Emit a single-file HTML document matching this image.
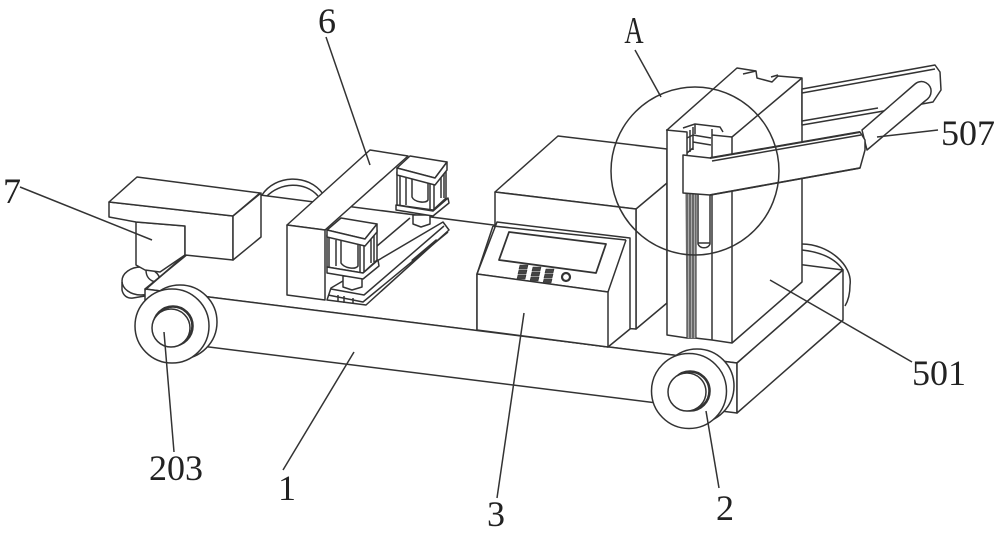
<!DOCTYPE html>
<html><head><meta charset="utf-8"><style>
html,body{margin:0;padding:0;background:#fff;width:1000px;height:533px;overflow:hidden}
svg{display:block}
.s path,.s polygon,.s ellipse,.s circle,.s polyline,.s line{stroke:#333;stroke-width:1.5;stroke-linejoin:round}
polygon,ellipse,circle{fill:#fff}
path,polyline,line{fill:none}
text{font-family:"Liberation Serif",serif;font-size:36px;fill:#222;text-anchor:middle}
</style></head><body>
<svg width="1000" height="533" viewBox="0 0 1000 533" xmlns="http://www.w3.org/2000/svg"><g class="s">
<!-- rear wheels -->
<path d="M262 195C275 175 308 173 323 194" />
<path d="M266 197C280 182 305 181 318 196" />
<path d="M802 244C828 244 853 265 850 285C850 295 848 301 845 306" style="fill:#fff"/>
<path d="M802 250C820 252 835 258 843 270" />
<!-- disk of unit 7 -->
<ellipse cx="141" cy="281" rx="19" ry="14" />
<path d="M122 282V290C123 295 127 299 133 298L145 296" />
<path d="M146 270C146 277 150 281 156 282L165 275" />
<!-- chassis -->
<polygon points="145,289 260,195 843,270 737,363" />
<polygon points="145,289 737,363 737,413 145,339" />
<polygon points="737,363 843,270 843,320 737,413" />
<!-- unit 7 body -->
<polygon points="136,222 185,226 185,255 160,272 145,270 136,265" />
<polygon points="109,202 233,216 233,260 185,255 185,226 136,222 109,217" />
<polygon points="137,177 260,193 233,216 109,202" />
<polygon points="233,216 261,193 261,237 233,260" />
<polyline points="145,290 185,255" />
<!-- unit 6 base -->
<polygon points="331,288 443,222 449,230 366,305 327,300" />
<polyline points="331,289 364,295 444,226" />
<polyline points="328,295 363,302 448,232" />
<polyline points="410,218 377,246" />
<line x1="437" y1="240" x2="412" y2="261" style="stroke-width:2.5" />
<path d="M338 295V302M344 296V303M353 298V304" />
<polygon points="413,215 430,215 430,224 421,227 413,224" />
<polygon points="343,276 362,276 362,287 352,290 343,287" />
<!-- block 6 -->
<polygon points="370,150 408,156 325,230 287,225" />
<polygon points="287,225 325,230 325,300 287,295" />
<!-- upper clamp -->
<polygon points="397,172 446,172 446,198 433,210 397,205" />
<path d="M400 175V205M406 178V205M412 178V197C414 202 426 204 428 200V180M430 180V209M434 180V209M441 170V198M444 168V198" />
<polygon points="396,205 433,211 448,198 449,203 433,216 396,210" />
<polygon points="410,156 447,162 435,178 397,168" />
<polygon points="397,168 435,178 447,162 447,170 435,185 397,175" />
<!-- lower clamp -->
<polygon points="327,235 377,230 377,260 363,273 327,267" />
<path d="M329 238V267M336 240V266M341 240V263C344 268 355 270 358 266V242M360 244V272M364 244V272M371 236V263M374 234V262" />
<polygon points="327,267 363,273 378,260 379,266 363,279 327,273" />
<polygon points="341,218 377,224 365,239 327,230" />
<polygon points="327,230 365,239 377,224 377,232 365,246 327,237" />
<!-- main box -->
<polygon points="558,136 667,149 667,303 636,329 636,209 495,192" />
<polygon points="495,192 636,209 636,329 495,320" />
<line x1="636" y1="209" x2="667" y2="183" />
<polygon points="497,222 630,238 630,329 608,347 477,330 477,274" />
<polyline points="493,226 626,240" />
<polyline points="493,226 477,274 608,292 626,240" />
<polygon points="477,274 608,292 608,347 477,330" />
<polygon points="509,232 606,244 596,273 499,260" style="stroke-width:1.8"/>
<path d="M520 265h8l-1 4h-8zM519 270h8l-1 4h-8zM518 275h8l-1 4h-8zM533 267h8l-1 4h-8zM532 272h8l-1 4h-8zM531 277h8l-1 4h-8zM546 269h8l-1 4h-8zM545 274h8l-1 4h-8zM544 279h8l-1 4h-8z" style="fill:#444;stroke-width:.6"/>
<circle cx="566" cy="277" r="4" style="stroke-width:2.2"/>
<!-- column 501 -->
<polygon points="737,68 756,71 757,78 772,82 778,76 802,78 802,282 732,343 712,340 695,338 687,338 667,335 667,130" />
<polyline points="802,78 732,137 732,343" />
<polyline points="712,135 732,137" />
<path d="M743 74L756 71M771 77L778 75" />
<path d="M666 130L687 132V158" />
<path d="M712 135V158" />
<!-- clamp atop column -->
<path d="M683 128L695 124L720 127L723 132M693 127V150M712 129V135M687 138L693 135L711 138M693 142L711 145M693 148L687 153" />
<path d="M695 124V134M690 130V152" />
<!-- column channels -->
<path d="M685 190H696V338H687Z" style="fill:#aaa;stroke:none"/>
<path d="M687 190V338M690 190V338M693 190V338M696 190V338" style="stroke-width:1.1"/>
<path d="M712 190V340" />
<path d="M698 190V244C700 249 708 249 710 244V190" style="fill:#fff"/>
<path d="M698 243H710" />
<!-- rear arm -->
<polygon points="802,89 935,65 940,72 941,90 933,102 878,112 802,125" />
<path d="M802 93L935 69M802 121L878 108" />
<!-- handle -->
<path d="M862 130L915 84C922 78 932 84 931 92C931 96 928 99 925 101L867 150Z" style="fill:#fff" />
<!-- front arm -->
<polygon points="683,155 710,158 860,132 865,140 865,150 860,168 710,195 683,193" />
<path d="M712 161L861 135" />
<line x1="710" y1="158" x2="860" y2="132" style="stroke-width:2"/>
<line x1="710" y1="195" x2="860" y2="168" style="stroke-width:1.8"/>
<!-- wheels -->
<circle cx="180" cy="322" r="37" />
<circle cx="172" cy="326" r="37" />
<circle cx="173" cy="326" r="19.5" style="stroke-width:2.6"/>
<circle cx="171" cy="328" r="19" />
<circle cx="697" cy="386" r="37" />
<circle cx="689" cy="391" r="37.5" />
<circle cx="690" cy="391" r="19.5" style="stroke-width:2.6"/>
<circle cx="687" cy="392" r="19" />
<!-- circle A -->
<circle cx="695" cy="171" r="84" style="fill:none"/>
<!-- leaders -->
<line x1="326" y1="37" x2="370" y2="165"/>
<line x1="20" y1="187" x2="152" y2="240"/>
<line x1="635" y1="50" x2="661" y2="97"/>
<line x1="877" y1="137" x2="938" y2="130"/>
<line x1="770" y1="280" x2="912" y2="362"/>
<line x1="706" y1="411" x2="719" y2="488"/>
<line x1="524" y1="313" x2="497" y2="498"/>
<line x1="354" y1="352" x2="283" y2="470"/>
<line x1="164" y1="332" x2="174" y2="452"/>
</g>
<text x="327" y="33">6</text>
<text transform="translate(634 43) scale(.7 1)" style="font-size:38px">A</text>
<text x="968" y="145">507</text>
<text x="939" y="385">501</text>
<text x="725" y="520">2</text>
<text x="496" y="526">3</text>
<text x="287" y="500">1</text>
<text x="176" y="480">203</text>
<text x="12" y="203">7</text>
</svg>
</body></html>
